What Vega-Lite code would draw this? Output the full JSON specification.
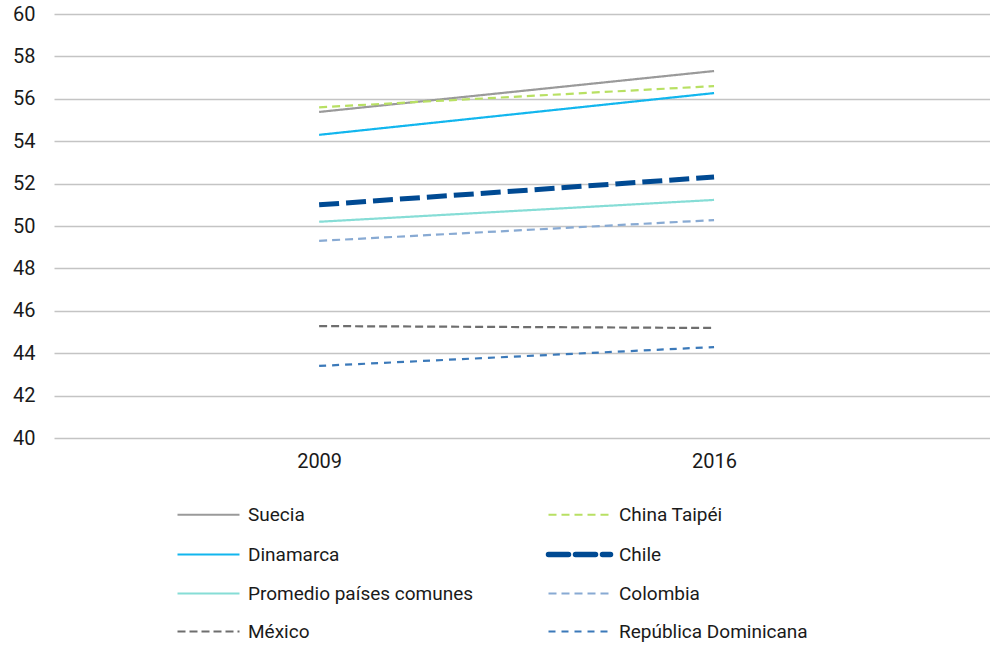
{
  "$schema": "https://vega.github.io/schema/vega-lite/v6.json",
  "width": 936,
  "height": 424,
  "autosize": {"type": "none"},
  "padding": {"left": 54, "top": 14, "right": 0, "bottom": 209},
  "background": "white",
  "config": {
    "view": {"stroke": null},
    "font": "Roboto",
    "axis": {"labelColor": "#1a1a1a", "labelFont": "Roboto"},
    "legend": {"labelColor": "#1a1a1a", "labelFont": "Roboto"}
  },
  "data": {
    "values": [
      {"pais": "Suecia", "anio": "2009", "valor": 55.38},
      {"pais": "Suecia", "anio": "2016", "valor": 57.31},
      {"pais": "China Taipéi", "anio": "2009", "valor": 55.6},
      {"pais": "China Taipéi", "anio": "2016", "valor": 56.6},
      {"pais": "Dinamarca", "anio": "2009", "valor": 54.3},
      {"pais": "Dinamarca", "anio": "2016", "valor": 56.27},
      {"pais": "Chile", "anio": "2009", "valor": 51.0},
      {"pais": "Chile", "anio": "2016", "valor": 52.31},
      {"pais": "Promedio países comunes", "anio": "2009", "valor": 50.2},
      {"pais": "Promedio países comunes", "anio": "2016", "valor": 51.23},
      {"pais": "Colombia", "anio": "2009", "valor": 49.3},
      {"pais": "Colombia", "anio": "2016", "valor": 50.28},
      {"pais": "México", "anio": "2009", "valor": 45.28},
      {"pais": "México", "anio": "2016", "valor": 45.19},
      {"pais": "República Dominicana", "anio": "2009", "valor": 43.4},
      {"pais": "República Dominicana", "anio": "2016", "valor": 44.29}
    ]
  },
  "mark": {"type": "line", "strokeCap": "butt"},
  "encoding": {
    "x": {
      "field": "anio",
      "type": "ordinal",
      "scale": {"type": "point", "padding": 0.685, "align": 0.49},
      "axis": {"title": null, "labelAngle": 0, "grid": false, "domain": false, "ticks": false, "tickSize": 0, "labelFontSize": 20, "labelPadding": 13}
    },
    "y": {
      "field": "valor",
      "type": "quantitative",
      "scale": {"domain": [40, 60], "nice": false, "zero": false},
      "axis": {"title": null, "values": [40, 42, 44, 46, 48, 50, 52, 54, 56, 58, 60], "domain": false, "ticks": false, "tickSize": 0, "labelPadding": 19, "labelFontSize": 20, "gridColor": "#c4c4c4", "gridWidth": 1.5}
    },
    "color": {
      "field": "pais",
      "type": "nominal",
      "scale": {
        "domain": ["Suecia", "Dinamarca", "Promedio países comunes", "México", "China Taipéi", "Chile", "Colombia", "República Dominicana"],
        "range": ["#9a9a9a", "#12b6ee", "#86ddd6", "#6e6e6e", "#b8e063", "#004a93", "#88aad3", "#3b79b9"]
      },
      "legend": {
        "title": null,
        "orient": "none",
        "legendX": 145,
        "legendY": 491,
        "columns": 2,
        "symbolType": "stroke",
        "symbolSize": 3844,
        "labelFontSize": 19,
        "labelOffset": 30,
        "labelLimit": 400,
        "columnPadding": 63,
        "rowPadding": 18,
        "encode": {
          "symbols": {
            "update": {
              "strokeWidth": {"signal": "datum.value === 'Chile' ? 5.5 : 2.2"},
              "strokeCap": {"signal": "datum.value === 'Chile' ? 'round' : 'butt'"},
              "strokeDash": {"signal": "datum.value === 'Chile' ? [15, 10] : scale('strokeDash', datum.value)"}
            }
          }
        }
      }
    },
    "strokeDash": {
      "field": "pais",
      "type": "nominal",
      "scale": {
        "domain": ["Suecia", "Dinamarca", "Promedio países comunes", "México", "China Taipéi", "Chile", "Colombia", "República Dominicana"],
        "range": [[1, 0], [1, 0], [1, 0], [8, 4], [8, 5], [20, 7], [8, 5], [7, 6]]
      }
    },
    "strokeWidth": {"condition": {"test": "datum.pais === 'Chile'", "value": 5}, "value": 2.2}
  }
}
